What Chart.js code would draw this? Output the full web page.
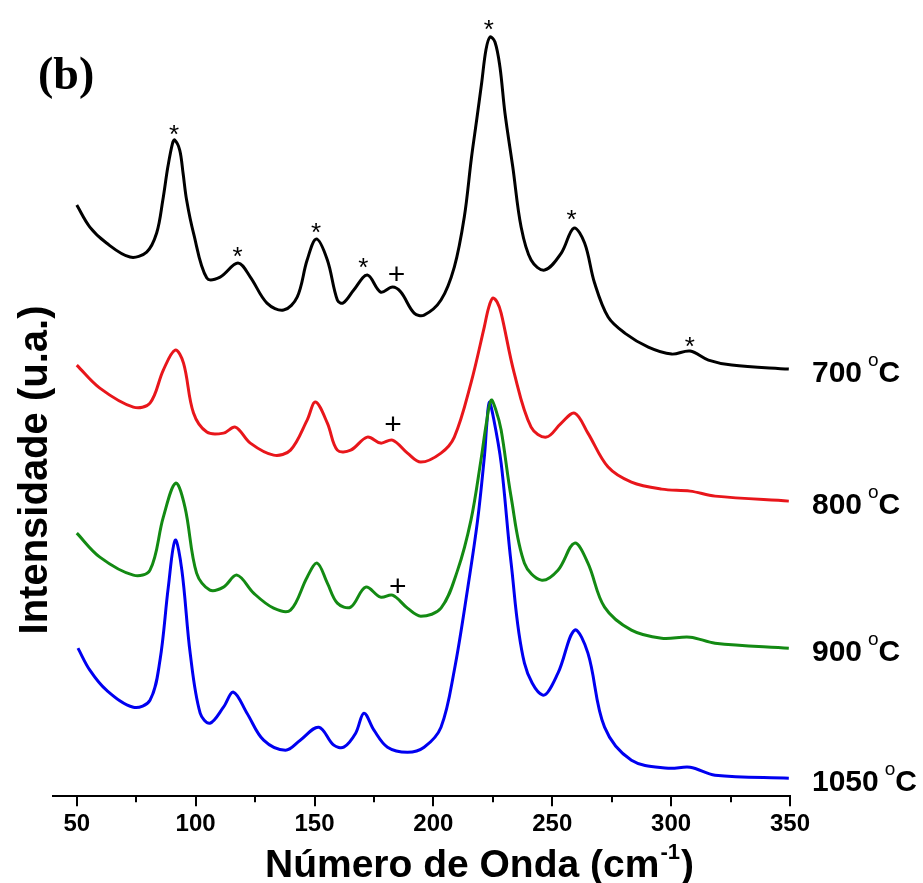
<!DOCTYPE html>
<html><head><meta charset="utf-8">
<script src="https://cdn.jsdelivr.net/npm/chart.js@4.4.1/dist/chart.umd.min.js"></script>
<style>html,body{margin:0;padding:0;background:#fff;}#wrap{width:923px;height:883px;position:relative;}</style>
</head><body><div id="wrap"><canvas id="c" width="923" height="883"></canvas></div>
<script>
// ---- data (wavenumber in cm-1, intensity in arbitrary units, curves stacked as in the figure) ----
const wn700 = [50,55.5,62.5,72.4,79.4,83.6,86.2,88.3,90.3,91.2,93.3,94.7,96.2,99.1,104.7,110.3,117.8,123,130,137,142.7,146.9,150.8,155.4,159.6,162,166.5,172.2,177.8,182.8,186.3,191.9,196.1,203.2,208.8,213,216,218.2,220.3,222.1,223.8,225.9,228,230.1,233.4,236.9,241.1,246.8,253.8,259.1,263.6,267.8,273.5,280.5,290.4,300.2,308,315.7,325.5,349.5];
const int700 = [591,569,553,539,544,563,596,629,653,656,646,623,596,563,518,519,533,519,493,486,499,536,557,536,496,493,506,521,504,509,504,483,481,496,529,579,638,676,713,746,759,754,729,683,629,569,536,526,543,568,553,513,479,463,449,442,445,436,431,427];

const wn800 = [50,59.7,73.8,80.8,86.4,91.4,94.9,99.1,104.7,111.7,116.7,123,132.8,139.9,146.9,150.4,155.4,159.6,165.2,172.2,177.8,182.8,189.1,194.7,203.2,208.8,215.8,221.4,223.2,225,226.8,228.5,234,241.1,247.5,253.8,259.4,265,273.5,283.3,296,308,318.5,349.5];
const int800 = [431,408,389,393,426,446,433,383,364,363,369,353,341,346,376,394,373,346,346,359,353,356,343,334,343,359,413,469,488,498,494,483,423,369,359,373,383,363,329,314,307,305,300,295];

const wn900 = [50,59.7,73.8,80.8,86.4,91.6,95.5,100.4,106,111.7,117.4,124.4,132.8,139.9,146.9,151.1,155.4,159.6,165.2,171.5,177.8,182.8,189.1,194.7,203.2,210.2,215.8,220,222.3,224.3,226.3,228.5,232.7,238.3,245.4,252.4,259.4,265,272,283.3,296,308,318.5,349.5];
const int900 = [263,239,221,226,279,313,289,223,206,209,221,203,188,186,219,233,213,193,189,209,199,201,188,180,188,226,276,336,373,396,386,366,299,233,216,226,253,233,189,166,158,159,153,148];

const wn1050 = [50.5,55.5,62.5,73.8,80.8,85,88.5,91.4,94.2,97.7,101.9,106,111.7,115.9,121.6,128.6,137.8,144,151.8,158.1,162.3,167.3,170.8,175,180.7,189.1,196.1,203.2,208.8,214.5,218.6,221.5,222.5,223.5,225.3,228.5,232.7,238.3,246,252.4,259.4,265,272,283.3,298.8,308,318.5,349.5];
const int1050 = [148,126,106,89,96,136,209,256,226,143,83,73,89,104,83,56,46,56,69,51,49,63,83,66,49,44,49,69,126,209,276,341,373,394,378,333,233,133,101,123,166,143,69,36,28,29,21,18];

const seriesLabels = ['700', '800', '900', '1050'];
const xTickValues = [50,75,100,125,150,175,200,225,250,275,300,325,350];

// peak markers: * and + above peaks
const markerX = [90.9,117.6,150.6,170.5,184.5,223.3,258.1,307.9,183,185];
const markerY = [666,544,568,533,523,771,581,454,373,211];
const markerText = ['*','*','*','*','+','*','*','*','+','+'];

// ---- chart ----
const colors = ['#000000','#e8161b','#138a13','#0000f0'];
const xs = [wn700, wn800, wn900, wn1050];
const ys = [int700, int800, int900, int1050];
const datasets = seriesLabels.map((lab, i) => ({
  label: lab + ' °C',
  data: xs[i].map((x, j) => ({x: x, y: ys[i][j]})),
  borderColor: colors[i],
  borderWidth: 3,
  pointRadius: 0,
  fill: false,
  tension: 0.35
}));

const decor = {
  id: 'decor',
  afterDraw(chart) {
    const ctx = chart.ctx;
    const xsc = chart.scales.x, ysc = chart.scales.y;
    const bottom = chart.chartArea.bottom;
    ctx.save();
    // tick marks
    ctx.strokeStyle = '#000';
    ctx.lineWidth = 2;
    xTickValues.forEach(v => {
      const px = Math.round(xsc.getPixelForValue(v));
      ctx.beginPath();
      ctx.moveTo(px, bottom);
      ctx.lineTo(px, bottom + (v % 50 === 0 ? 10 : 6));
      ctx.stroke();
    });
    // markers
    ctx.fillStyle = '#000';
    ctx.textAlign = 'center';
    ctx.textBaseline = 'alphabetic';
    markerText.forEach((t, i) => {
      ctx.font = t === '*' ? '26px "Liberation Sans", Arial, sans-serif' : '30px "Liberation Sans", Arial, sans-serif';
      const m = ctx.measureText(t);
      const cx = xsc.getPixelForValue(markerX[i]);
      const cy = ysc.getPixelForValue(markerY[i]);
      ctx.fillText(t, cx, cy + (m.actualBoundingBoxAscent - m.actualBoundingBoxDescent) / 2);
    });
    // right-side series labels
    ctx.textAlign = 'left';
    chart.data.datasets.forEach((ds, i) => {
      const last = ds.data[ds.data.length - 1];
      const yb = ysc.getPixelForValue(last.y) + 13;
      let x = chart.chartArea.right + 22;
      ctx.font = 'bold 30px "Liberation Sans", Arial, sans-serif';
      ctx.fillText(seriesLabels[i], x, yb);
      x += ctx.measureText(seriesLabels[i]).width + 6;
      ctx.font = '19px "Liberation Sans", Arial, sans-serif';
      ctx.fillText('o', x, yb - 16);
      x += ctx.measureText('o').width;
      ctx.font = 'bold 30px "Liberation Sans", Arial, sans-serif';
      ctx.fillText('C', x, yb);
    });
    // x title with superscript
    let tx = 265;
    const tb = 877;
    ctx.font = 'bold 39px "Liberation Sans", Arial, sans-serif';
    ctx.fillText('Número de Onda (cm', tx, tb);
    tx += ctx.measureText('Número de Onda (cm').width + 1;
    ctx.font = 'bold 22px "Liberation Sans", Arial, sans-serif';
    ctx.fillText('-1', tx, tb - 18);
    tx += ctx.measureText('-1').width + 1;
    ctx.font = 'bold 39px "Liberation Sans", Arial, sans-serif';
    ctx.fillText(')', tx, tb);
    // y title
    ctx.save();
    ctx.translate(47, 470);
    ctx.rotate(-Math.PI / 2);
    ctx.textAlign = 'center';
    ctx.font = 'bold 40px "Liberation Sans", Arial, sans-serif';
    ctx.fillText('Intensidade (u.a.)', 0, 0);
    ctx.restore();
    // panel tag
    ctx.font = 'bold 46px "Liberation Serif", "Times New Roman", serif';
    ctx.textAlign = 'left';
    ctx.fillText('(b)', 38, 89);
    ctx.restore();
  }
};

new Chart(document.getElementById('c'), {
  type: 'line',
  data: { datasets: datasets },
  options: {
    responsive: false,
    animation: false,
    devicePixelRatio: 1,
    layout: { padding: { left: 53, right: 133, top: 30, bottom: 30 } },
    plugins: { legend: { display: false }, tooltip: { enabled: false } },
    scales: {
      x: {
        type: 'linear',
        min: 40, max: 350,
        afterBuildTicks: (scale) => { scale.ticks = xTickValues.map(v => ({ value: v })); },
        ticks: {
          autoSkip: false, maxRotation: 0, padding: 14,
          color: '#000',
          font: { family: '"Liberation Sans", Arial, sans-serif', size: 24, weight: 'bold' },
          callback: (v) => (v % 50 === 0 ? String(v) : '')
        },
        grid: { display: true, drawOnChartArea: false, drawTicks: false },
        border: { display: true, color: '#000', width: 2 }
      },
      y: { display: false, min: 0, max: 766 }
    }
  },
  plugins: [decor]
});
</script></body></html>
